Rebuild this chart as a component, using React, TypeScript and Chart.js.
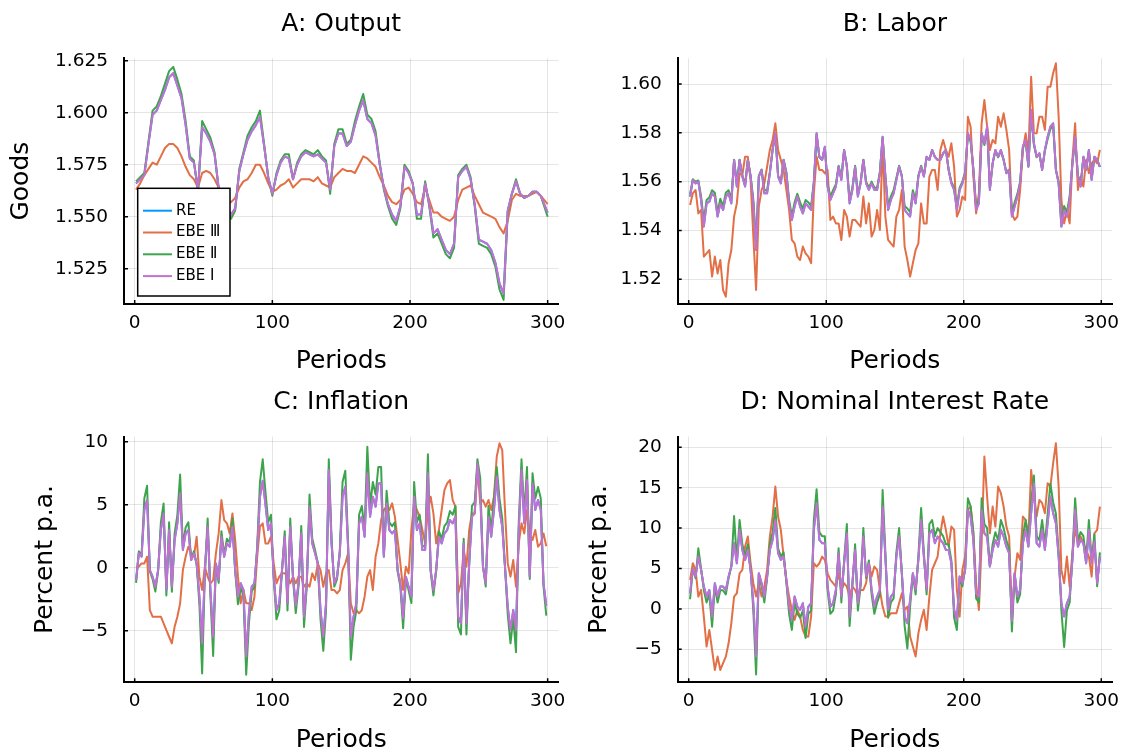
import { useEffect, useRef } from "react";
import { Chart, registerables } from "chart.js";

Chart.register(...registerables);

// ---------- data ----------
// Panel A is smooth: sampled every 3 periods
const periodsA = [
  1, 4, 7, 10, 13, 16, 19, 22, 25, 28, 31, 34, 37, 40, 43, 46, 49, 52, 55, 58,
  61, 64, 67, 70, 73, 76, 79, 82, 85, 88, 91, 94, 97, 100, 103, 106, 109, 112, 115, 118,
  121, 124, 127, 130, 133, 136, 139, 142, 145, 148, 151, 154, 157, 160, 163, 166, 169, 172, 175, 178,
  181, 184, 187, 190, 193, 196, 199, 202, 205, 208, 211, 214, 217, 220, 223, 226, 229, 232, 235, 238,
  241, 244, 247, 250, 253, 256, 259, 262, 265, 268, 271, 274, 277, 280, 283, 286, 289, 292, 295, 300,
];
// Panels B-D are noisy: sampled every 2 periods
const periodsB = [
  1, 3, 5, 7, 9, 11, 13, 15, 17, 19, 21, 23, 25, 27, 29, 31, 33, 35, 37, 39,
  41, 43, 45, 47, 49, 51, 53, 55, 57, 59, 61, 63, 65, 67, 69, 71, 73, 75, 77, 79,
  81, 83, 85, 87, 89, 91, 93, 95, 97, 99, 101, 103, 105, 107, 109, 111, 113, 115, 117, 119,
  121, 123, 125, 127, 129, 131, 133, 135, 137, 139, 141, 143, 145, 147, 149, 151, 153, 155, 157, 159,
  161, 163, 165, 167, 169, 171, 173, 175, 177, 179, 181, 183, 185, 187, 189, 191, 193, 195, 197, 199,
  201, 203, 205, 207, 209, 211, 213, 215, 217, 219, 221, 223, 225, 227, 229, 231, 233, 235, 237, 239,
  241, 243, 245, 247, 249, 251, 253, 255, 257, 259, 261, 263, 265, 267, 269, 271, 273, 275, 277, 279,
  281, 283, 285, 287, 289, 291, 293, 295, 297, 299,
];

const seriesLabels = ["RE", "EBE \u2162", "EBE \u2161", "EBE \u2160"];

// A: Output
const outputEBE1 = [
  1.566, 1.568, 1.57, 1.585, 1.599, 1.601, 1.606, 1.611, 1.617, 1.619,
  1.613, 1.607, 1.594, 1.578, 1.576, 1.563, 1.593, 1.59, 1.586, 1.58,
  1.564, 1.557, 1.554, 1.551, 1.554, 1.572, 1.58, 1.587, 1.591, 1.594,
  1.598, 1.584, 1.569, 1.561, 1.57, 1.576, 1.579, 1.578, 1.568, 1.575,
  1.579, 1.581, 1.58, 1.579, 1.58, 1.578, 1.576, 1.563, 1.584, 1.59,
  1.59, 1.584, 1.586, 1.594, 1.601, 1.606, 1.597, 1.595, 1.589, 1.575,
  1.564, 1.556, 1.551, 1.548, 1.555, 1.574, 1.571, 1.566, 1.551, 1.551,
  1.566, 1.556, 1.542, 1.544, 1.539, 1.534, 1.532, 1.537, 1.569, 1.572,
  1.574, 1.568, 1.556, 1.539, 1.538, 1.537, 1.534, 1.528, 1.518, 1.513,
  1.553, 1.561, 1.567, 1.561, 1.559, 1.56, 1.562, 1.562, 1.56, 1.552,
];
const outputRE = outputEBE1.slice(); // hidden beneath EBE I in the picture
const outputEBE2 = [
  1.567, 1.569, 1.571, 1.586, 1.601, 1.603, 1.608, 1.614, 1.62, 1.622,
  1.616, 1.609, 1.596, 1.579, 1.577, 1.562, 1.596, 1.592, 1.588, 1.581,
  1.563, 1.556, 1.553, 1.549, 1.553, 1.573, 1.581, 1.589, 1.593, 1.596,
  1.601, 1.585, 1.569, 1.56, 1.571, 1.577, 1.58, 1.58, 1.568, 1.576,
  1.58, 1.582, 1.581, 1.58, 1.582, 1.579, 1.577, 1.561, 1.585, 1.592,
  1.592, 1.585, 1.587, 1.596, 1.603, 1.609, 1.599, 1.597, 1.591, 1.576,
  1.563, 1.555, 1.549, 1.546, 1.554, 1.575, 1.572, 1.566, 1.549, 1.549,
  1.567, 1.555, 1.54, 1.542, 1.537, 1.532, 1.53, 1.535, 1.57, 1.573,
  1.575, 1.569, 1.555, 1.537, 1.536, 1.535, 1.532, 1.526, 1.515, 1.51,
  1.552, 1.561, 1.568, 1.561, 1.559, 1.56, 1.562, 1.562, 1.56, 1.55,
];
const outputEBE3 = [
  1.563, 1.566, 1.57, 1.573, 1.576, 1.575, 1.579, 1.583, 1.585, 1.585,
  1.583, 1.579, 1.574, 1.57, 1.568, 1.564, 1.571, 1.572, 1.571, 1.568,
  1.564, 1.559, 1.557, 1.557, 1.559, 1.564, 1.567, 1.568, 1.571, 1.575,
  1.575, 1.571, 1.566, 1.562, 1.563, 1.565, 1.566, 1.568, 1.564, 1.566,
  1.568, 1.568, 1.568, 1.567, 1.569, 1.566, 1.565, 1.564, 1.569, 1.571,
  1.573, 1.572, 1.572, 1.571, 1.575, 1.579, 1.578, 1.576, 1.574, 1.569,
  1.565, 1.56, 1.557, 1.556, 1.558, 1.563, 1.564, 1.561, 1.557, 1.556,
  1.564, 1.558, 1.552, 1.552, 1.55, 1.549, 1.548, 1.55, 1.558, 1.563,
  1.564, 1.565, 1.56, 1.556, 1.552, 1.551, 1.55, 1.549, 1.545, 1.542,
  1.548, 1.558, 1.561, 1.56, 1.56, 1.56, 1.561, 1.562, 1.56, 1.556,
];

// B: Labor
const laborEBE1 = [
  1.5539, 1.5607, 1.5593, 1.56, 1.5525, 1.5416, 1.5511, 1.5518, 1.5552, 1.5539,
  1.5457, 1.5511, 1.5484, 1.5539, 1.5552, 1.5511, 1.5689, 1.558, 1.5689, 1.5621,
  1.558, 1.5689, 1.5621, 1.5511, 1.532, 1.5621, 1.5648, 1.5552, 1.5552, 1.5634,
  1.573, 1.5798, 1.5621, 1.5593, 1.5689, 1.5634, 1.5511, 1.5443, 1.5498, 1.5539,
  1.5498, 1.547, 1.5511, 1.5498, 1.5484, 1.5593, 1.5798, 1.5702, 1.5689, 1.5743,
  1.558, 1.5525, 1.5552, 1.558, 1.5661, 1.5607, 1.573, 1.5661, 1.5511, 1.5566,
  1.5661, 1.5539, 1.5593, 1.5689, 1.5593, 1.5566, 1.5593, 1.5566, 1.5566, 1.5634,
  1.5784, 1.5621, 1.5484, 1.5525, 1.5552, 1.5607, 1.5661, 1.5621, 1.5484, 1.547,
  1.5457, 1.5552, 1.5511, 1.5621, 1.5661, 1.5621, 1.5702, 1.5689, 1.573, 1.5702,
  1.5689, 1.5689, 1.5716, 1.573, 1.5648, 1.5593, 1.5566, 1.5484, 1.5566, 1.5593,
  1.5634, 1.5798, 1.5771, 1.5648, 1.5484, 1.5511, 1.5798, 1.5757, 1.5825, 1.5566,
  1.5675, 1.573, 1.5702, 1.573, 1.5689, 1.5634, 1.5648, 1.5457, 1.5498, 1.5539,
  1.5593, 1.5743, 1.5771, 1.5661, 1.5894, 1.5757, 1.5702, 1.5716, 1.5648, 1.573,
  1.5784, 1.5825, 1.5839, 1.5648, 1.5593, 1.5416, 1.5484, 1.5457, 1.5525, 1.5675,
  1.5784, 1.5621, 1.558, 1.5702, 1.5648, 1.573, 1.5607, 1.5702, 1.5689, 1.5661,
];
const laborRE = laborEBE1.slice();
const laborEBE2 = [
  1.555, 1.561, 1.56, 1.5605, 1.554, 1.544, 1.5525, 1.5535, 1.5565, 1.5555,
  1.5475, 1.553, 1.55, 1.5555, 1.5565, 1.553, 1.569, 1.559, 1.569, 1.5625,
  1.559, 1.569, 1.5625, 1.5525, 1.5345, 1.5625, 1.565, 1.5565, 1.5565, 1.564,
  1.573, 1.5795, 1.5625, 1.56, 1.569, 1.564, 1.5525, 1.546, 1.5515, 1.555,
  1.5515, 1.549, 1.5525, 1.5515, 1.55, 1.56, 1.579, 1.57, 1.569, 1.574,
  1.559, 1.554, 1.5565, 1.559, 1.5665, 1.5615, 1.573, 1.5665, 1.5525, 1.5575,
  1.5665, 1.555, 1.56, 1.569, 1.56, 1.5575, 1.56, 1.5575, 1.5575, 1.564,
  1.578, 1.5625, 1.55, 1.554, 1.5565, 1.5615, 1.5665, 1.5625, 1.55, 1.549,
  1.5475, 1.5565, 1.5525, 1.5625, 1.5665, 1.5625, 1.57, 1.569, 1.573, 1.57,
  1.569, 1.569, 1.5715, 1.573, 1.565, 1.56, 1.5575, 1.55, 1.5575, 1.56,
  1.564, 1.579, 1.5765, 1.565, 1.55, 1.5525, 1.579, 1.575, 1.5815, 1.5575,
  1.5675, 1.5725, 1.57, 1.5725, 1.569, 1.564, 1.565, 1.5475, 1.5515, 1.555,
  1.56, 1.574, 1.5765, 1.5665, 1.588, 1.575, 1.57, 1.5715, 1.565, 1.5725,
  1.5775, 1.5815, 1.583, 1.565, 1.56, 1.544, 1.55, 1.5475, 1.554, 1.5675,
  1.5775, 1.5625, 1.559, 1.57, 1.565, 1.5725, 1.5615, 1.57, 1.569, 1.566,
];
const laborEBE3 = [
  1.5504, 1.5552, 1.5566, 1.547, 1.5484, 1.5293, 1.5306, 1.532, 1.5211, 1.5293,
  1.5224, 1.5279, 1.5156, 1.5129, 1.5266, 1.532, 1.5457, 1.5511, 1.5634, 1.5627,
  1.5702, 1.5702, 1.5607, 1.5375, 1.5156, 1.5498, 1.5566, 1.5593, 1.5661, 1.573,
  1.5771, 1.5839, 1.573, 1.5689, 1.5648, 1.5566, 1.5484, 1.5361, 1.5347, 1.5293,
  1.5279, 1.5334, 1.5306, 1.5293, 1.5266, 1.5552, 1.5702, 1.5648, 1.5648, 1.5634,
  1.5648, 1.5443, 1.5457, 1.5429, 1.5429, 1.5361, 1.5484, 1.5457, 1.5375, 1.5443,
  1.5443, 1.5429, 1.5416, 1.5539, 1.5429, 1.5511, 1.5375, 1.5402, 1.5484, 1.5402,
  1.5757, 1.5457, 1.5361, 1.5347, 1.5334, 1.5457, 1.5484, 1.5566, 1.5334, 1.5279,
  1.5211, 1.5266, 1.532, 1.5347, 1.5511, 1.5429, 1.5429, 1.5621, 1.5648, 1.5648,
  1.5566, 1.573, 1.5771, 1.573, 1.5702, 1.5757, 1.5661, 1.5457, 1.5484, 1.5539,
  1.5525, 1.5866, 1.5825, 1.5621, 1.547, 1.5552, 1.5839, 1.5934, 1.5825, 1.573,
  1.5771, 1.5757, 1.5866, 1.5825, 1.588, 1.5812, 1.573, 1.547, 1.5443, 1.5457,
  1.5566, 1.573, 1.5798, 1.5716, 1.603, 1.5798, 1.5798, 1.5866, 1.5866, 1.5812,
  1.5989, 1.5989, 1.6044, 1.6085, 1.5866, 1.5525, 1.5429, 1.5484, 1.5429, 1.5689,
  1.5839, 1.5566, 1.5621, 1.558, 1.5689, 1.5634, 1.5675, 1.5689, 1.5675, 1.573,
];

// C: Inflation
const inflationEBE1 = [
  -0.98, 1.14, 0.87, 4.58, 5.37, -0.19, -0.71, -1.51, -0.19, 2.99,
  4.31, -1.77, 2.99, -1.51, 2.2, 3.52, 5.9, 1.4, 2.72, 2.99,
  0.61, 1.14, 0.34, -2.3, -6.01, -0.19, 3.25, -1.77, -5.48, 0.34,
  -0.98, 2.46, 0.87, 1.93, 1.67, 3.25, -0.19, -2.3, -1.24, -1.77,
  -7.06, -3.62, -1.51, -1.24, 1.4, 5.63, 6.9, 5.0, 2.99, 3.52,
  -0.71, -3.36, -2.83, -0.19, 2.46, -2.83, 3.25, -0.71, -3.0, -1.24,
  2.72, -3.89, -1.24, 4.84, 1.93, 1.14, 0.34, -3.36, -5.48, -2.83,
  7.75, 1.93, -1.24, -0.71, 1.14, 5.63, 6.43, 1.67, -5.48, -3.89,
  -2.83, 3.52, 4.05, 2.46, 7.49, 4.05, 5.63, 4.84, 6.69, 6.69,
  0.87, 5.11, 2.99, 2.72, 2.99, -0.19, -1.24, -4.0, -0.71, -1.51,
  -2.3, 5.63, 2.99, 3.52, 1.4, 1.4, 7.49, -0.19, -1.77, -0.19,
  2.46, 1.93, 2.72, 2.99, 3.78, 3.52, 4.05, -3.89, -4.42, 1.93,
  -4.42, 0.34, 4.05, 4.31, 8.28, 5.9, 0.08, -1.24, 4.05, 2.46,
  4.58, 7.22, 4.58, 3.25, 0.08, -3.1, -4.95, -3.36, -4.95, 2.99,
  7.75, 3.52, 6.96, -0.71, 6.69, 4.58, 5.37, 4.58, -1.24, -3.0,
];
const inflationRE = inflationEBE1.slice();
const inflationEBE2 = [
  -1.2, 1.3, 1.0, 5.5, 6.5, -0.3, -0.9, -1.9, -0.3, 3.6,
  5.1, -2.2, 3.6, -1.9, 2.7, 4.2, 7.4, 1.7, 3.2, 3.6,
  0.7, 1.3, 0.3, -2.9, -8.4, -0.3, 3.9, -2.2, -7.0, 0.3,
  -1.2, 2.9, 1.0, 2.3, 2.0, 3.9, -0.3, -2.9, -1.6, -2.2,
  -8.5, -4.4, -1.9, -1.5, 1.7, 6.8, 8.6, 6.0, 3.6, 4.2,
  -0.9, -4.1, -3.4, -0.3, 2.9, -3.4, 3.9, -0.9, -3.6, -1.5,
  3.3, -4.7, -1.5, 5.8, 2.3, 1.4, 0.4, -4.1, -6.6, -3.4,
  8.6, 2.3, -1.5, -0.9, 1.4, 6.8, 7.7, 2.0, -7.3, -4.7,
  -3.4, 4.2, 4.9, 3.0, 9.6, 4.9, 6.8, 5.8, 8.0, 8.0,
  1.0, 6.1, 3.6, 3.3, 3.6, -0.3, -1.5, -4.8, -0.9, -1.8,
  -2.8, 6.8, 3.6, 4.2, 1.7, 1.7, 9.0, -0.3, -2.2, -0.3,
  2.9, 2.3, 3.3, 3.6, 4.5, 4.2, 4.9, -4.7, -5.3, 2.3,
  -5.3, 0.4, 4.9, 5.2, 8.6, 7.1, 0.1, -1.5, 4.9, 3.0,
  5.5, 8.0, 5.5, 3.9, 0.1, -3.7, -6.0, -4.0, -6.7, 3.6,
  8.6, 4.2, 8.0, -0.9, 7.5, 5.5, 6.4, 5.5, -1.5, -3.8,
];
const inflationEBE3 = [
  -0.05, 0.08, 0.34, 0.34, 0.87, -3.36, -3.89, -3.89, -3.89, -3.89,
  -4.42, -4.95, -5.48, -6.01, -4.68, -3.89, -2.83, -0.19, 0.87, 1.67,
  1.14, 0.87, 2.46, -0.71, -1.77, 0.08, -0.71, -1.24, -0.98, 1.14,
  2.72, 5.37, 3.78, 3.52, 2.72, 4.31, 2.2, -0.71, -2.83, -1.77,
  -2.83, -2.83, -3.36, -2.3, 0.87, 3.25, 3.52, 1.93, 1.93, 2.46,
  0.34, -1.24, -0.71, -0.45, -0.45, -0.71, -1.24, -0.71, -1.24, -0.71,
  -0.71, -1.51, -1.24, -1.51, -0.45, -0.98, 0.34, -0.19, -1.51, -0.45,
  -0.19, -1.77, -1.77, -2.04, -1.77, -0.19, 0.34, 1.14, -2.83, -3.62,
  -3.36, -3.62, -3.36, -2.3, -0.71, -0.19, -1.77, 0.87, 1.93, 3.78,
  4.58, 4.84, 4.58, 5.11, 4.05, 2.2, 0.34, -1.77, 0.08, -0.45,
  2.99, 5.11, 4.58, 4.05, 2.99, 1.93, 4.58, 5.63, 4.31, 1.93,
  2.99, 4.58, 6.16, 6.69, 6.96, 5.37, 4.84, -2.04, -1.24, 1.4,
  0.08, 2.99, 4.31, 4.31, 8.0, 5.11, 5.37, 4.84, 5.37, 4.58,
  5.63, 8.81, 9.87, 9.34, 4.58, 0.34, -0.71, 0.61, -1.51, 1.93,
  3.52, 2.72, 4.58, 2.72, 2.2, 2.99, 1.67, 1.93, 2.72, 1.7,
];

// D: Nominal Interest Rate
const interestEBE1 = [
  1.94, 5.0, 4.0, 6.48, 4.83, 2.76, 1.53, 2.35, -0.95, 3.18,
  1.53, 2.76, 2.76, 2.35, 4.0, 5.24, 8.13, 5.65, 9.78, 7.3,
  6.06, 7.3, 4.83, 0.7, -5.9, 4.41, 3.18, 1.53, 4.0, 7.3,
  8.54, 11.01, 6.89, 6.06, 6.48, 3.59, 0.29, -1.36, 1.53, 0.29,
  -0.12, 0.7, -2.19, 0.29, 0.7, 9.78, 13.08, 8.54, 8.13, 8.13,
  2.76, 0.29, 0.7, 2.35, 6.89, 1.53, 5.65, 9.36, -0.95, 3.18,
  7.3, 0.7, 3.18, 8.95, 4.0, 5.65, 2.35, 0.29, 1.53, 2.35,
  12.66, 6.48, -0.12, 1.53, 1.94, 6.48, 9.0, 4.41, -0.95, -1.77,
  1.11, 4.41, 2.35, 6.06, 11.01, 6.48, 2.35, 9.36, 9.78, 8.13,
  8.95, 8.54, 8.13, 7.3, 7.3, 5.65, -0.12, -1.36, 4.0, 3.18,
  4.83, 12.25, 11.43, 8.54, 1.94, 1.53, 12.25, 9.36, 8.95, 5.24,
  7.3, 8.54, 7.71, 9.78, 8.95, 7.71, 6.89, -1.5, 4.41, 1.53,
  2.35, 8.13, 9.78, 7.71, 11.84, 15.55, 8.13, 7.71, 9.78, 7.3,
  10.6, 13.9, 11.84, 10.6, 6.48, 0.7, -0.95, 0.7, 1.53, 6.06,
  12.25, 7.71, 8.54, 8.13, 5.65, 9.78, 5.65, 8.33, 3.18, 6.48,
];
const interestRE = interestEBE1.slice();
const interestEBE2 = [
  1.2, 5.0, 3.8, 7.5, 5.0, 2.3, 0.8, 1.8, -2.2, 2.8,
  0.8, 2.3, 2.3, 1.8, 3.8, 5.3, 11.5, 6.0, 11.0, 8.0,
  6.5, 8.0, 5.0, -0.2, -8.1, 4.3, 2.8, 0.8, 3.8, 8.0,
  9.5, 12.5, 7.5, 6.5, 7.0, 3.3, -0.6, -2.6, 0.8, -0.6,
  -1.1, -0.2, -3.6, -0.6, -0.2, 11.0, 14.8, 9.5, 9.0, 9.0,
  2.3, -0.6, -0.2, 1.8, 7.5, 0.8, 6.0, 10.5, -2.1, 2.8,
  8.0, -0.2, 2.8, 10.0, 3.8, 6.0, 1.8, -0.6, 0.8, 1.8,
  14.7, 7.0, -1.1, 0.8, 1.3, 7.0, 10.0, 4.3, -2.1, -4.9,
  0.3, 4.3, 1.8, 6.5, 12.5, 7.0, 1.8, 10.5, 11.0, 9.0,
  10.0, 9.5, 9.0, 8.0, 8.0, 6.0, -1.1, -2.6, 3.8, 2.8,
  5.0, 13.7, 12.7, 9.5, 1.3, 0.8, 13.7, 10.5, 10.0, 5.3,
  8.0, 9.5, 8.5, 11.0, 10.0, 8.5, 7.5, -2.8, 4.3, 0.8,
  1.8, 9.0, 11.0, 8.5, 13.2, 16.5, 9.0, 8.5, 11.0, 8.0,
  11.8, 15.5, 13.2, 11.8, 7.0, -0.2, -4.7, -0.2, 0.8, 6.5,
  13.7, 8.5, 9.5, 9.0, 6.0, 11.0, 6.0, 9.2, 2.8, 7.0,
];
const interestEBE3 = [
  3.59, 5.65, 4.83, 1.53, 2.35, -0.95, -4.66, -2.6, -5.07, -7.55,
  -5.9, -7.55, -6.72, -5.9, -4.25, -1.77, 1.53, 1.94, 4.41, 4.83,
  7.71, 8.95, 5.65, 3.18, 1.53, 3.18, 1.53, 2.76, 4.83, 8.95,
  11.43, 15.14, 11.43, 9.78, 6.48, 3.59, 1.53, -0.12, -1.36, -0.12,
  -0.95, -2.6, -3.42, -3.42, -0.95, 5.65, 5.24, 5.65, 6.48, 6.06,
  4.41, 3.59, 3.18, 2.76, 4.41, 2.35, 3.18, 2.76, 1.53, 2.76,
  2.35, 1.53, 2.35, 2.35, 3.18, 5.65, 4.0, 5.24, 4.83, 2.35,
  0.29, -0.95, -0.95, -0.54, -0.54, -0.54, 0.7, 1.94, -0.12, 0.29,
  -3.42, -4.66, -5.9, -3.02, -1.36, -0.12, -2.6, 1.53, 4.83, 5.65,
  6.48, 9.36, 11.43, 9.78, 7.71, 10.19, 9.78, 2.35, -0.95, 4.83,
  6.48, 12.25, 12.66, 9.36, 3.18, -0.12, 8.13, 18.85, 13.9, 9.36,
  12.66, 10.19, 15.14, 14.32, 12.66, 10.19, 8.95, -0.95, 4.0, 6.89,
  6.06, 11.43, 11.01, 8.95, 17.2, 13.9, 11.43, 13.49, 13.08, 11.84,
  15.55, 15.14, 18.03, 20.5, 15.14, 4.83, 3.18, 6.48, 2.76, 6.89,
  9.78, 8.33, 8.95, 8.13, 7.3, 6.48, 4.0, 9.36, 9.78, 12.66,
];

// tick values
const periodTicks = [0, 100, 200, 300];
const outputTicks = [1.525, 1.55, 1.575, 1.6, 1.625];
const laborTicks = [1.52, 1.54, 1.56, 1.58, 1.6];
const inflationTicks = [-5, 0, 5, 10];
const interestTicks = [-5, 0, 5, 10, 15, 20];

// ---------- styling ----------
const FONT = "'DejaVu Sans', sans-serif";
const COLORS = ["#009AFA", "#E26F46", "#3DA44D", "#C271D2"];
const W = 1122;
const H = 750;
const TICK_SIZE = 18.5;
const LABEL_SIZE = 25;

const fmtSigned = (v: number) => (v < 0 ? "\u2212" + Math.abs(v) : String(v));

type Panel = {
  title: string;
  yTitle: string;
  x: number[];
  series: number[][];
  yTicks: number[];
  yFmt: (v: number) => string;
  yMin: number;
  yMax: number;
  xMin: number;
  xMax: number;
  padLeft: number;
  padRight: number;
  padTop: number;
  padBottom: number;
  yAxisW: number;
  xAxisH: number;
  titlePad: { top: number; bottom: number };
  yTitlePad: number;
  xTitlePad: number;
  legend: boolean;
};

const panels: Panel[] = [
  {
    title: "A: Output",
    yTitle: "Goods",
    x: periodsA,
    series: [outputRE, outputEBE3, outputEBE2, outputEBE1],
    yTicks: outputTicks,
    yFmt: (v) => v.toFixed(3),
    yMin: 1.50803,
    yMax: 1.62615,
    xMin: -7.77,
    xMax: 307.8,
    padLeft: 0,
    padRight: W - 558.4,
    padTop: 0,
    padBottom: 375,
    yAxisW: 124,
    xAxisH: 71,
    titlePad: { top: 9, bottom: 19.3 },
    yTitlePad: 6.5,
    xTitlePad: -1,
    legend: true,
  },
  {
    title: "B: Labor",
    yTitle: "",
    x: periodsB,
    series: [laborRE, laborEBE3, laborEBE2, laborEBE1],
    yTicks: laborTicks,
    yFmt: (v) => v.toFixed(2),
    yMin: 1.50988,
    yMax: 1.61053,
    xMin: -8.0,
    xMax: 307.8,
    padLeft: 561,
    padRight: W - 1112,
    padTop: 0,
    padBottom: 375,
    yAxisW: 116.7,
    xAxisH: 71,
    titlePad: { top: 9, bottom: 19.3 },
    yTitlePad: 0,
    xTitlePad: -1,
    legend: false,
  },
  {
    title: "C: Inflation",
    yTitle: "Percent p.a.",
    x: periodsB,
    series: [inflationRE, inflationEBE3, inflationEBE2, inflationEBE1],
    yTicks: inflationTicks,
    yFmt: fmtSigned,
    yMin: -9.095,
    yMax: 10.397,
    xMin: -7.77,
    xMax: 307.8,
    padLeft: 0,
    padRight: W - 558.4,
    padTop: 375,
    padBottom: 0,
    yAxisW: 124,
    xAxisH: 67.7,
    titlePad: { top: 12, bottom: 19.7 },
    yTitlePad: 30.7,
    xTitlePad: -5,
    legend: false,
  },
  {
    title: "D: Nominal Interest Rate",
    yTitle: "Percent p.a.",
    x: periodsB,
    series: [interestRE, interestEBE3, interestEBE2, interestEBE1],
    yTicks: interestTicks,
    yFmt: fmtSigned,
    yMin: -9.08,
    yMax: 21.31,
    xMin: -8.0,
    xMax: 307.8,
    padLeft: 561,
    padRight: W - 1112,
    padTop: 375,
    padBottom: 0,
    yAxisW: 116.7,
    xAxisH: 67.7,
    titlePad: { top: 12, bottom: 19.7 },
    yTitlePad: 23,
    xTitlePad: -5,
    legend: false,
  },
];

// inward tick marks (GR style)
const inwardTicks = {
  id: "inwardTicks",
  afterDraw(chart: any) {
    const { ctx, chartArea, scales } = chart;
    ctx.save();
    ctx.strokeStyle = "#000";
    ctx.lineWidth = 1.5;
    ctx.beginPath();
    for (const t of scales.x.ticks) {
      const px = scales.x.getPixelForValue(t.value);
      ctx.moveTo(px, chartArea.bottom);
      ctx.lineTo(px, chartArea.bottom - 4);
    }
    for (const t of scales.y.ticks) {
      const py = scales.y.getPixelForValue(t.value);
      ctx.moveTo(chartArea.left, py);
      ctx.lineTo(chartArea.left + 4, py);
    }
    ctx.stroke();
    ctx.restore();
  },
};

// boxed legend in bottom-left of the plot area
const boxLegend = {
  id: "boxLegend",
  afterDraw(chart: any) {
    const { ctx, chartArea } = chart;
    const boxW = 92.3;
    const boxH = 107.7;
    const x0 = chartArea.left + 13.7;
    const y0 = chartArea.bottom - 8 - boxH;
    ctx.save();
    ctx.fillStyle = "#fff";
    ctx.fillRect(x0, y0, boxW, boxH);
    ctx.strokeStyle = "#000";
    ctx.lineWidth = 1.5;
    ctx.strokeRect(x0, y0, boxW, boxH);
    ctx.font = `15px ${FONT}`;
    ctx.textBaseline = "middle";
    ctx.textAlign = "left";
    chart.data.datasets.forEach((ds: any, i: number) => {
      const y = y0 + 22.4 + i * 21.8;
      ctx.strokeStyle = ds.borderColor;
      ctx.lineWidth = 2;
      ctx.beginPath();
      ctx.moveTo(x0 + 5.3, y);
      ctx.lineTo(x0 + 34.3, y);
      ctx.stroke();
      ctx.fillStyle = "#000";
      ctx.fillText(ds.label, x0 + 38.3, y);
    });
    ctx.restore();
  },
};

function makeConfig(p: Panel): any {
  const datasets = p.series.map((vals, i) => ({
    label: seriesLabels[i],
    data: p.x.map((x, k) => ({ x, y: vals[k] })),
    borderColor: COLORS[i],
    backgroundColor: COLORS[i],
    borderWidth: 2,
    pointRadius: 0,
    tension: 0,
    fill: false,
    borderJoinStyle: "round",
    order: 4 - i,
  }));
  const gridColor = "rgba(0,0,0,0.1)";
  return {
    type: "line",
    data: { datasets },
    plugins: p.legend ? [inwardTicks, boxLegend] : [inwardTicks],
    options: {
      responsive: false,
      animation: false,
      events: [],
      layout: {
        padding: { left: p.padLeft, right: p.padRight, top: p.padTop, bottom: p.padBottom },
      },
      plugins: {
        legend: { display: false },
        tooltip: { enabled: false },
        title: {
          display: true,
          text: p.title,
          fullSize: false,
          color: "#000",
          font: { family: FONT, size: LABEL_SIZE, weight: "normal", lineHeight: 1.2 },
          padding: p.titlePad,
        },
      },
      scales: {
        x: {
          type: "linear",
          min: p.xMin,
          max: p.xMax,
          afterBuildTicks: (s: any) => {
            s.ticks = periodTicks.map((v) => ({ value: v }));
          },
          afterFit: (s: any) => {
            s.height = p.xAxisH;
            s.paddingLeft = 0;
            s.paddingRight = 0;
          },
          grid: { color: gridColor, lineWidth: 1, drawTicks: false },
          border: { display: true, color: "#000", width: 2 },
          ticks: {
            includeBounds: false,
            padding: 8,
            color: "#000",
            maxRotation: 0,
            autoSkip: false,
            font: { family: FONT, size: TICK_SIZE },
            callback: (v: number) => String(v),
          },
          title: {
            display: true,
            text: "Periods",
            color: "#000",
            font: { family: FONT, size: LABEL_SIZE, lineHeight: 1.2 },
            padding: { top: 0, bottom: p.xTitlePad },
          },
        },
        y: {
          type: "linear",
          min: p.yMin,
          max: p.yMax,
          afterBuildTicks: (s: any) => {
            s.ticks = p.yTicks.map((v) => ({ value: v }));
          },
          afterFit: (s: any) => {
            s.width = p.yAxisW;
            s.paddingTop = 0;
            s.paddingBottom = 0;
          },
          grid: { color: gridColor, lineWidth: 1, drawTicks: false },
          border: { display: true, color: "#000", width: 2 },
          ticks: {
            includeBounds: false,
            padding: 16,
            color: "#000",
            autoSkip: false,
            font: { family: FONT, size: TICK_SIZE },
            callback: (v: number) => p.yFmt(v),
          },
          title: {
            display: p.yTitle !== "",
            text: p.yTitle,
            color: "#000",
            font: { family: FONT, size: LABEL_SIZE, lineHeight: 1.2 },
            padding: { top: p.yTitlePad, bottom: 0 },
          },
        },
      },
    },
  };
}

export default function App() {
  const refs = useRef<(HTMLCanvasElement | null)[]>([]);

  useEffect(() => {
    const charts = panels.map((p, i) => new Chart(refs.current[i] as HTMLCanvasElement, makeConfig(p)));
    return () => charts.forEach((c) => c.destroy());
  }, []);

  return (
    <div
      style={{
        position: "absolute",
        left: 0,
        top: 0,
        width: W,
        height: H,
        background: "#fff",
        overflow: "hidden",
      }}
    >
      {panels.map((p, i) => (
        <canvas
          key={p.title}
          ref={(el) => {
            refs.current[i] = el;
          }}
          width={W}
          height={H}
          style={{ position: "absolute", left: 0, top: 0, width: W, height: H }}
        />
      ))}
    </div>
  );
}
